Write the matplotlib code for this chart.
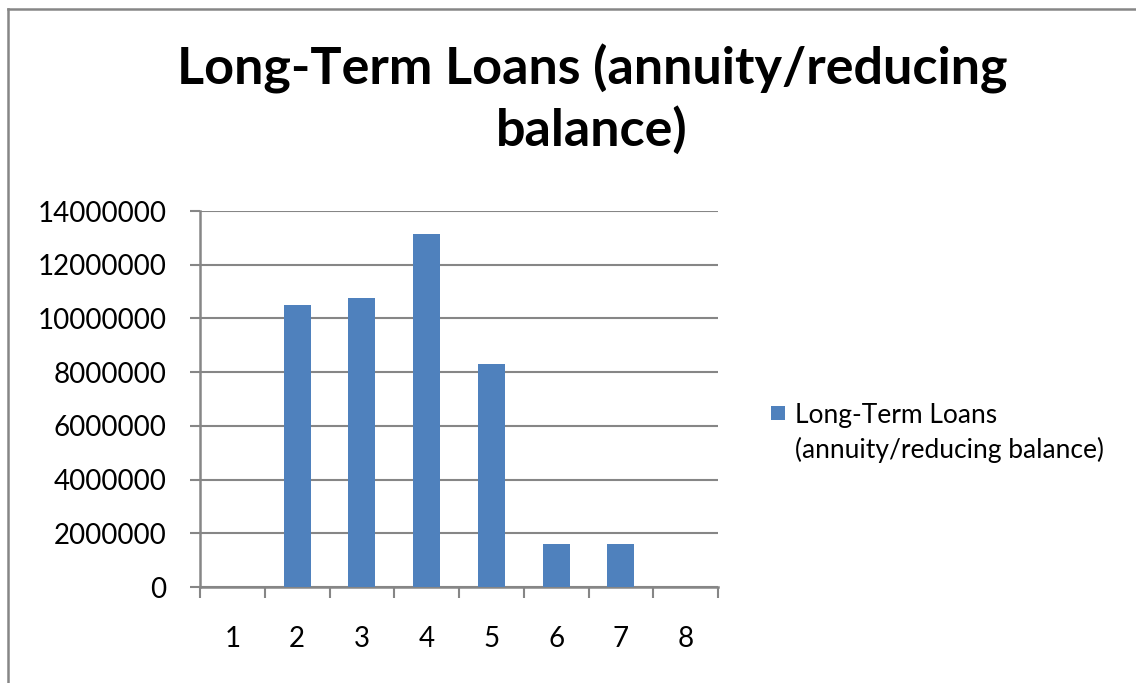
import matplotlib
matplotlib.use("Agg")
import matplotlib.pyplot as plt
from matplotlib.patches import Rectangle

categories = ["1", "2", "3", "4", "5", "6", "7", "8"]
values = [0, 10500000, 10770000, 13150000, 8300000, 1600000, 1600000, 0]
yticks = [0, 2000000, 4000000, 6000000, 8000000, 10000000, 12000000, 14000000]
title = "Long-Term Loans (annuity/reducing\nbalance)"
series_label = "Long-Term Loans\n(annuity/reducing balance)"

BAR = "#4F81BD"
GRID = "#868686"
FONT = "Lato"

fig = plt.figure(figsize=(11.36, 6.83), dpi=100)
W, H = 1136, 683
ax = fig.add_axes([200 / W, 1 - 587 / H, 518 / W, 376 / H])

x = list(range(1, len(categories) + 1))
ax.bar(x, values, width=0.42, color=BAR, zorder=3)

ax.set_xlim(0.5, len(categories) + 0.5)
ax.set_ylim(0, 14000000)
ax.set_yticks(yticks)
ax.set_yticklabels([str(v) for v in yticks], fontsize=20, family=FONT)
ax.set_xticks(x)
ax.set_xticklabels(categories, fontsize=20, family=FONT)
ax.set_xticks([i + 0.5 for i in range(0, len(categories) + 1)], minor=True)
ax.tick_params(axis="x", which="major", length=0, pad=28)
ax.tick_params(axis="x", which="minor", length=8, width=1.5, color=GRID, direction="out")
ax.tick_params(axis="y", length=7, width=1.5, color=GRID, pad=17)
ax.grid(axis="y", color=GRID, linewidth=1.5, zorder=0)
for s in ["top", "right"]:
    ax.spines[s].set_visible(False)
for s in ["left", "bottom"]:
    ax.spines[s].set_color(GRID)
    ax.spines[s].set_linewidth(1.8)

fig.text(592 / W, 1 - 99 / H, title, ha="center", va="center", fontsize=37.5,
         fontweight="bold", family=FONT, linespacing=1.3)

# legend
fig.patches.append(Rectangle((771 / W, 1 - 420 / H), 14 / W, 14 / H,
                             transform=fig.transFigure, facecolor=BAR, edgecolor="none"))
fig.text(795 / W, 1 - 433 / H, series_label, ha="left", va="center", fontsize=19,
         family=FONT, linespacing=1.45, transform=fig.transFigure)

# chart border (cropped at right and bottom)
fig.add_artist(plt.Line2D([8 / W, 8 / W], [0, 1 - 8.5 / H], color=GRID, linewidth=1.8,
                          transform=fig.transFigure))
fig.add_artist(plt.Line2D([8 / W, 1], [1 - 8.5 / H, 1 - 8.5 / H], color=GRID, linewidth=1.8,
                          transform=fig.transFigure))

fig.savefig("out.png", dpi=100)
